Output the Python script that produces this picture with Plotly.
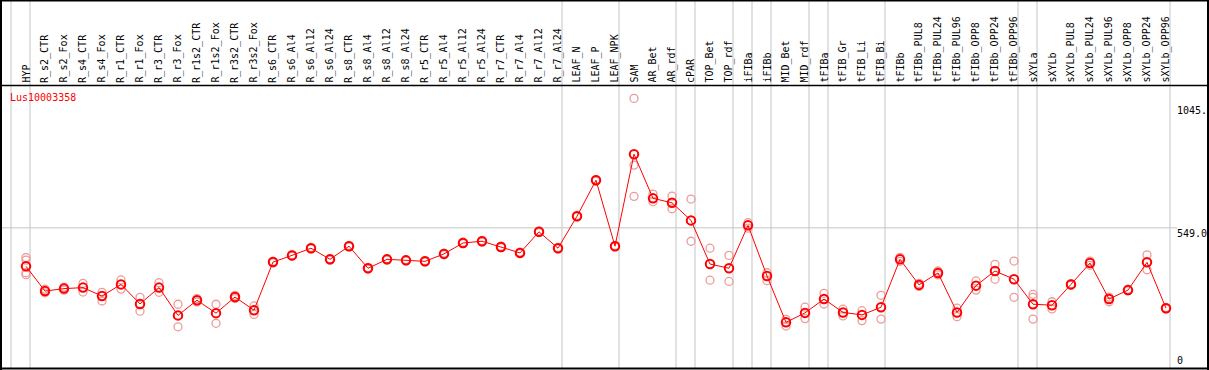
import plotly.graph_objects as go

# ---------------- data ----------------
gene = "Lus10003358"

tissues = ["HYP", "R_s2_CTR", "R_s2_Fox", "R_s4_CTR", "R_s4_Fox", "R_r1_CTR", "R_r1_Fox",
           "R_r3_CTR", "R_r3_Fox", "R_r1s2_CTR", "R_r1s2_Fox", "R_r3s2_CTR", "R_r3s2_Fox",
           "R_s6_CTR", "R_s6_Al4", "R_s6_Al12", "R_s6_Al24", "R_s8_CTR", "R_s8_Al4",
           "R_s8_Al12", "R_s8_Al24", "R_r5_CTR", "R_r5_Al4", "R_r5_Al12", "R_r5_Al24",
           "R_r7_CTR", "R_r7_Al4", "R_r7_Al12", "R_r7_Al24", "LEAF_N", "LEAF_P", "LEAF_NPK",
           "SAM", "AR_Bet", "AR_rdf", "cPAR", "TOP_Bet", "TOP_rdf", "iFIBa", "iFIBb",
           "MID_Bet", "MID_rdf", "tFIBa", "tFIB_Gr", "tFIB_Li", "tFIB_Bi", "tFIBb",
           "tFIBb_PUL8", "tFIBb_PUL24", "tFIBb_PUL96", "tFIBb_OPP8", "tFIBb_OPP24",
           "tFIBb_OPP96", "sXYLa", "sXYLb", "sXYLb_PUL8", "sXYLb_PUL24", "sXYLb_PUL96",
           "sXYLb_OPP8", "sXYLb_OPP24", "sXYLb_OPP96"]

mean_expr = [394, 294, 304, 308, 274, 321, 242, 308, 196, 257, 205, 270, 217,
             411, 438, 467, 422, 475, 386, 422, 418, 414, 444, 488, 495, 472, 448, 533, 467,
             596, 741, 475, 846, 668, 650, 579, 403, 386, 559, 355, 168, 206, 262, 208, 198,
             229, 422, 319, 367, 208, 316, 375, 342, 241, 237, 321, 407, 262, 298, 410, 225]

replicates = [[429, 419, 368, 360], [302, 287], [310, 298], [325, 290], [289, 254],
              [339, 302], [269, 213], [328, 289], [241, 150], [264, 250], [241, 164],
              [277, 264], [234, 200],
              [414, 408], [441, 435], [470, 464], [425, 419], [478, 472], [389, 383],
              [425, 419], [421, 415], [417, 411], [447, 441], [491, 485], [498, 492],
              [475, 469], [451, 445], [536, 530], [470, 464], [599, 593], [744, 738],
              [478, 472],
              [1071, 802, 676], [685, 654], [677, 626], [665, 495], [467, 338], [438, 333],
              [570, 548], [368, 336], [180, 153], [229, 183], [285, 242], [221, 194],
              [215, 175], [277, 181], [430, 414], [325, 313], [375, 359], [225, 191],
              [335, 298], [402, 342], [415, 269], [281, 269, 181], [251, 222], [324, 318],
              [415, 398], [270, 251], [301, 295], [440, 380], [228, 222]]

# group separators (drawn after these columns)
group_ends = [-1, 0, 28, 31, 34, 35, 37, 38, 39, 41, 42, 45, 52, 53, 60]

axis_ticks = [1045, 549, 0]
axis_tick_text = ["1045.", "549.0", "0"]

# ---------------- geometry ----------------
W, H = 1209, 370
# pixel mapping used to set the axis ranges: column i at 26 + 19*i px; value v at 364 - 0.248*v px
X0, DX = 26.0, 19.0
Y0, KY = 364.0, 0.248
x_range = [(0 - X0) / DX, (W - X0) / DX]
y_range = [(Y0 - H) / KY, (Y0 - 0) / KY]


def px(xp):
    return xp / W


def py(yp):
    return 1 - yp / H


FONT = "DejaVu Sans Mono"

fig = go.Figure()

rx, ry = [], []
for i, reps in enumerate(replicates):
    for v in reps:
        rx.append(i)
        ry.append(v)

fig.add_trace(go.Scatter(
    x=rx, y=ry, mode="markers",
    marker=dict(symbol="circle-open", size=8, color="#ee9a9a", line=dict(width=1.3)),
    hoverinfo="skip", showlegend=False))

fig.add_trace(go.Scatter(
    x=list(range(len(tissues))), y=mean_expr, mode="lines+markers",
    line=dict(color="#ff0000", width=1),
    marker=dict(symbol="circle-open", size=8.5, color="#ff0000", line=dict(width=2)),
    hoverinfo="skip", showlegend=False))

shapes = []
# vertical group separators
for g in group_ends:
    xv = g + 4.0 / DX
    shapes.append(dict(type="line", xref="x", yref="paper", x0=xv, x1=xv,
                       y0=py(368), y1=py(0), line=dict(color="#c4c4c4", width=1), layer="below"))
# horizontal grid at middle tick
shapes.append(dict(type="line", xref="paper", yref="y", x0=px(1), x1=px(1177),
                   y0=axis_ticks[1], y1=axis_ticks[1], line=dict(color="#c4c4c4", width=1), layer="below"))
# frame lines
black = dict(color="#000000", width=2)
shapes += [
    dict(type="line", xref="paper", yref="paper", x0=px(0), x1=px(W), y0=py(0.5), y1=py(0.5), line=black),
    dict(type="line", xref="paper", yref="paper", x0=px(0), x1=px(W), y0=py(85.5), y1=py(85.5),
         line=dict(color="#000000", width=1.5)),
    dict(type="line", xref="paper", yref="paper", x0=px(0), x1=px(W), y0=py(368.5), y1=py(368.5), line=black),
    dict(type="line", xref="paper", yref="paper", x0=px(1), x1=px(1), y0=py(0), y1=py(370), line=black),
    dict(type="line", xref="paper", yref="paper", x0=px(1208), x1=px(1208), y0=py(0), y1=py(370), line=black),
]

annotations = []
for i, t in enumerate(tissues):
    annotations.append(dict(x=i, xref="x", y=py(84), yref="paper", text=t, showarrow=False,
                            textangle=-90, xanchor="center", yanchor="bottom", xshift=-0.5,
                            font=dict(family=FONT, size=10, color="#000000"), borderpad=0))
for v, t in zip(axis_ticks, axis_tick_text):
    if v == 0:
        anchor, shift = "bottom", -3
    else:
        anchor, shift = "top", 1
    annotations.append(dict(x=px(1176), xref="paper", y=v, yref="y", text=t, showarrow=False,
                            xanchor="left", yanchor=anchor, yshift=shift,
                            font=dict(family=FONT, size=10, color="#000000"), borderpad=0))
annotations.append(dict(x=px(9), xref="paper", y=py(97), yref="paper", text=gene, showarrow=False,
                        xanchor="left", yanchor="middle",
                        font=dict(family=FONT, size=10, color="#ff0000"), borderpad=0))

fig.update_layout(
    width=W, height=H, margin=dict(l=0, r=0, t=0, b=0, pad=0),
    paper_bgcolor="white", plot_bgcolor="white",
    xaxis=dict(range=x_range, visible=False, fixedrange=True),
    yaxis=dict(range=y_range, visible=False, fixedrange=True),
    shapes=shapes, annotations=annotations, showlegend=False)

fig.write_html("out.html", config={"displayModeBar": False},
               post_script="document.body.style.margin='0';document.body.style.overflow='hidden';")
